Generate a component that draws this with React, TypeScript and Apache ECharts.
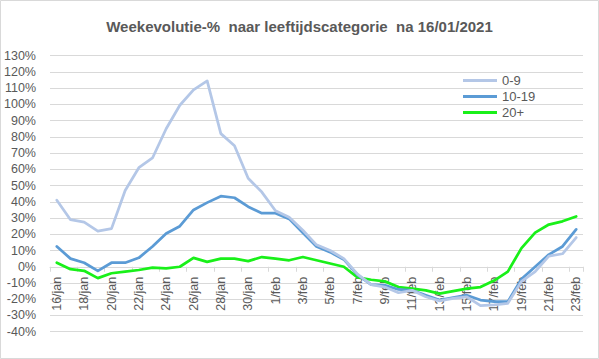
import React, { useEffect, useRef } from "react";
import * as echarts from "echarts";

const categories = [
  "16/jan", "17/jan", "18/jan", "19/jan", "20/jan", "21/jan", "22/jan", "23/jan",
  "24/jan", "25/jan", "26/jan", "27/jan", "28/jan", "29/jan", "30/jan", "31/jan",
  "1/feb", "2/feb", "3/feb", "4/feb", "5/feb", "6/feb", "7/feb", "8/feb",
  "9/feb", "10/feb", "11/feb", "12/feb", "13/feb", "14/feb", "15/feb", "16/feb",
  "17/feb", "18/feb", "19/feb", "20/feb", "21/feb", "22/feb", "23/feb",
];

const age0to9 = [
  41, 29, 27.5, 22, 23.5, 47, 61, 67, 85, 99.5, 109, 114.5, 82, 74.5, 54.5, 46,
  34.5, 30.5, 22.5, 13.5, 10, 5, -4.5, -11, -12.5, -16, -14.5, -18.5, -21, -19.5,
  -18.5, -24, -23.5, -22.5, -9, -3, 6.5, 8, 18,
];

const age10to19 = [
  12.5, 5, 2.5, -2.5, 2.5, 2.5, 5.5, 12.5, 20.5, 25, 35, 39.5, 43.5, 42.5, 37, 33,
  33, 29.5, 21, 12.5, 9, 4.5, -5, -11, -11.5, -14, -14.5, -17.5, -20.5, -19,
  -17.5, -20.5, -21.5, -21.5, -7.5, 0, 7.5, 12.5, 23,
];

const age20plus = [
  2.5, -1.5, -2.5, -7, -4, -3, -2, -0.5, -1, 0, 5.5, 3, 5, 5, 3.5, 6,
  5, 4, 6, 4, 2, 0, -6.5, -8, -9, -12.5, -13.5, -14.5, -16.5, -15,
  -13.5, -12.5, -8.5, -3, 11.5, 21, 26, 28, 31,
];

const seriesNames = ["0-9", "10-19", "20+"];
const seriesColors = ["#b4c7e7", "#5b9bd5", "#19f019"];

const FONT = "'Liberation Sans', Arial, sans-serif";
const TEXT = "#595959";

const Y_MIN = -40;
const Y_MAX = 130;
const GRID_TOP = 55.7;
const GRID_BOTTOM = 27.3;
const CHART_H = 359;

export default function App() {
  const ref = useRef<HTMLDivElement>(null);

  useEffect(() => {
    if (!ref.current) return;
    const chart = echarts.init(ref.current, null, { renderer: "svg" });
    const data = [age0to9, age10to19, age20plus];
    const plotH = CHART_H - GRID_TOP - GRID_BOTTOM;
    // shift the category axis up so it sits on the 0% line (as in the reference)
    const zeroOffset = -(plotH * (0 - Y_MIN)) / (Y_MAX - Y_MIN);
    chart.setOption({
      animation: false,
      backgroundColor: "#ffffff",
      title: {
        text: "Weekevolutie-%  naar leeftijdscategorie  na 16/01/2021",
        left: "center",
        top: 14,
        textStyle: { fontFamily: FONT, fontSize: 15, fontWeight: "bold", color: TEXT },
      },
      graphic: [
        {
          type: "rect",
          shape: { x: 0.5, y: 0.5, width: 598, height: 358 },
          style: { fill: "none", stroke: "#d9d9d9", lineWidth: 1 },
          silent: true,
        },
      ],
      legend: {
        orient: "vertical",
        left: 458,
        top: 69,
        icon: "rect",
        itemWidth: 34,
        itemHeight: 3,
        itemGap: 3,
        textStyle: { fontFamily: FONT, fontSize: 13, color: TEXT },
        data: seriesNames,
      },
      grid: {
        left: 50,
        right: 16,
        top: GRID_TOP,
        bottom: GRID_BOTTOM,
        containLabel: false,
        outerBoundsMode: "none",
      },
      xAxis: {
        type: "category",
        data: categories,
        position: "bottom",
        offset: zeroOffset,
        boundaryGap: true,
        axisLine: { onZero: false, lineStyle: { color: "#d9d9d9", width: 1 } },
        axisTick: { show: true, interval: 1, length: 5, lineStyle: { color: "#d9d9d9" } },
        axisLabel: {
          interval: 1,
          rotate: 90,
          margin: 10,
          fontFamily: FONT,
          fontSize: 12.5,
          color: TEXT,
        },
        splitLine: { show: false },
      },
      yAxis: {
        type: "value",
        min: Y_MIN,
        max: Y_MAX,
        interval: 10,
        axisLine: { show: false },
        axisTick: { show: false },
        axisLabel: {
          formatter: "{value}%",
          margin: 14,
          fontFamily: FONT,
          fontSize: 12.5,
          color: TEXT,
        },
        splitLine: { lineStyle: { color: "#d9d9d9", width: 1 } },
      },
      series: seriesNames.map((name, i) => ({
        name,
        type: "line",
        data: data[i],
        symbol: "none",
        smooth: false,
        color: seriesColors[i],
        lineStyle: { width: 2.75, color: seriesColors[i], join: "round", cap: "round" },
        z: 3 - i,
      })),
    });
    return () => chart.dispose();
  }, []);

  return (
    <div
      ref={ref}
      style={{ position: "fixed", left: 0, top: 0, width: 599, height: 359 }}
    />
  );
}
